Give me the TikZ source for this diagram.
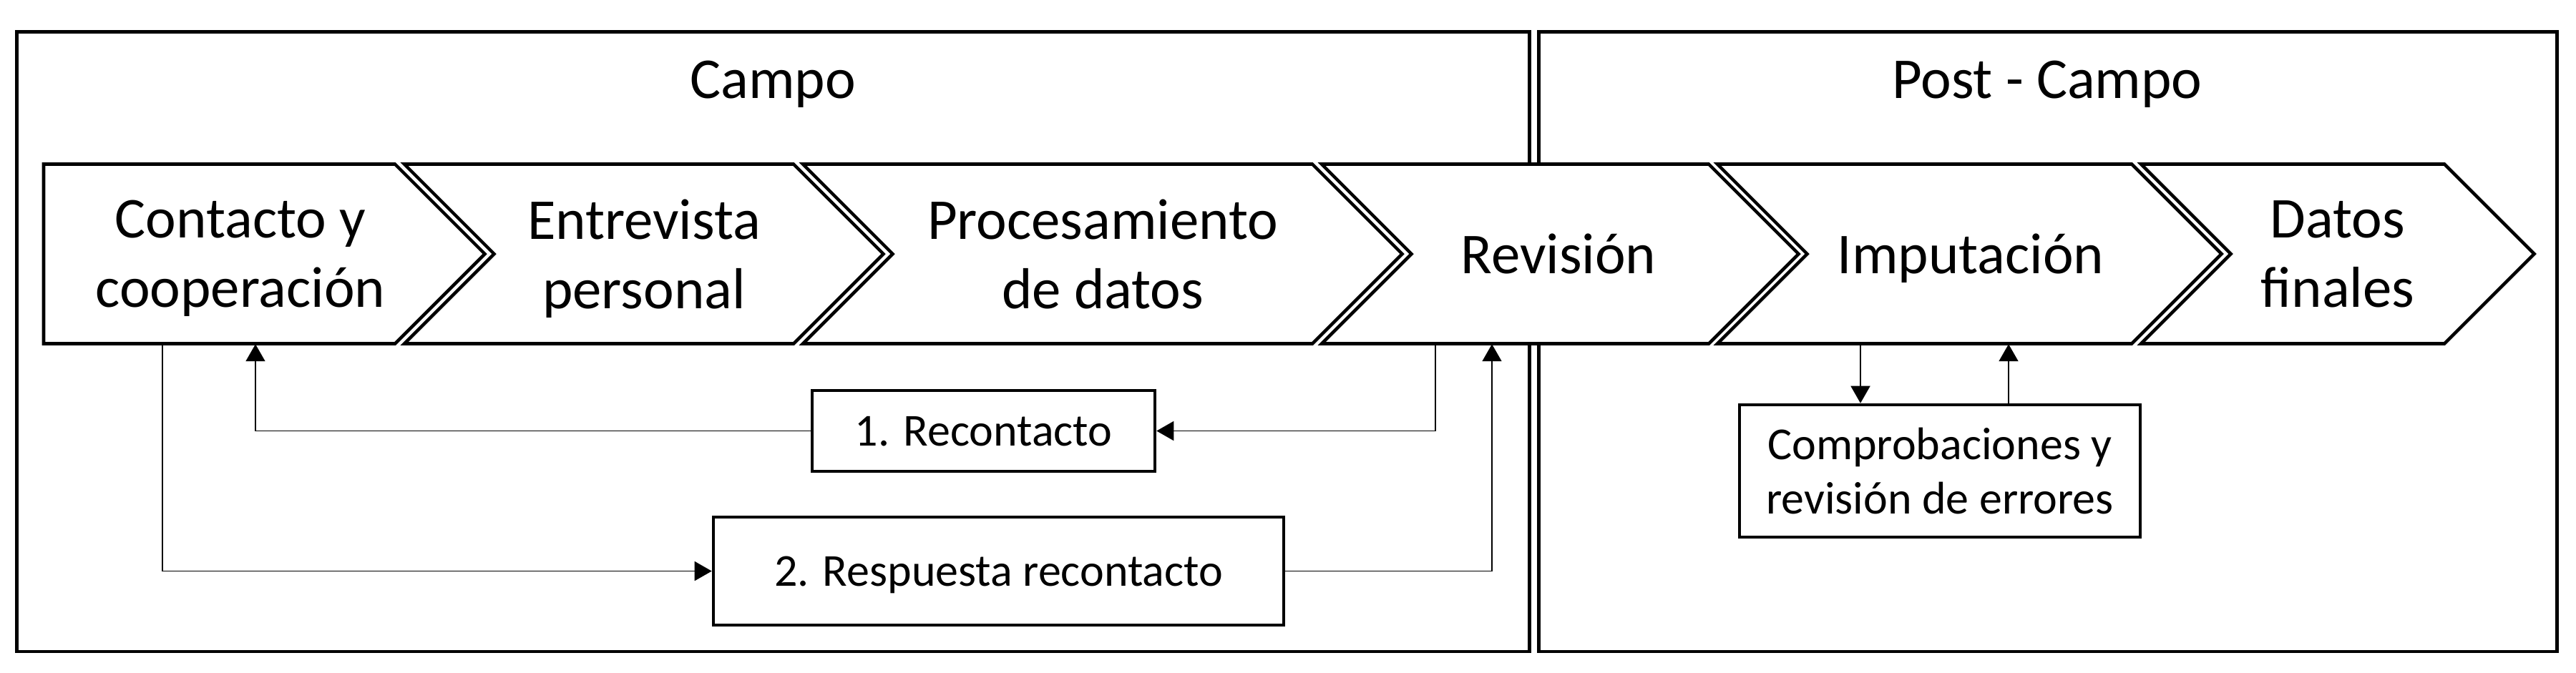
\documentclass[tikz,border=0pt]{standalone}
\usepackage{fontspec}
\setmainfont{Carlito}
\usetikzlibrary{arrows.meta}
\tikzset{
    marco/.style={line width=1.4pt},
    flecha/.style={line width=1.3pt, fill=white},
    etapa/.style={minimum height=2.51cm, inner sep=0pt, text depth=0pt, align=center, font=\fontsize{23}{27.6}\selectfont},
    titulo/.style={anchor=base, font=\fontsize{23}{27.6}\selectfont},
    caja/.style={draw, line width=1.3pt, fill=white, inner sep=0pt, text depth=0pt, align=center, font=\fontsize{18.2}{21.6}\selectfont},
    conector/.style={line width=0.5pt, -{Triangle[length=0.24cm,width=0.27cm]}}
}
\begin{document}
\begin{tikzpicture}
    \useasboundingbox (0,0) rectangle (36,-9.4);
    \draw[marco] (0.235,-0.445) rectangle (21.375,-9.11);
    \draw[marco] (21.505,-0.445) rectangle (35.73,-9.11);
    \node[titulo] (campo) at (10.80,-1.37) {Campo};
    \node[titulo] (postcampo) at (28.61,-1.37) {Post - Campo};
    \draw[flecha] (0.61,-2.295) -- (5.52,-2.295) -- (6.775,-3.55) -- (5.52,-4.805) -- (0.61,-4.805) -- cycle;
    \foreach \l/\r in {5.65/11.09, 11.22/18.34, 18.47/23.88, 24.00/29.79, 29.92/34.16}
        \draw[flecha] (\l,-2.295) -- (\r,-2.295) -- ({\r+1.255},-3.55) -- (\r,-4.805) -- (\l,-4.805) -- ({\l+1.255},-3.55) -- cycle;
    \node[etapa] (c1) at (3.36,-3.55) {Contacto y\\cooperación};
    \node[etapa] (c2) at (9.00,-3.55) {Entrevista\\personal};
    \node[etapa] (c3) at (15.41,-3.55) {Procesamiento\\de datos};
    \node[etapa] (c4) at (21.78,-3.55) {Revisión};
    \node[etapa] (c5) at (27.54,-3.55) {Imputación};
    \node[etapa] (c6) at (32.67,-3.55) {Datos\\finales};
    \node[caja, minimum width=4.79cm, minimum height=1.13cm] (recontacto) at (13.745,-6.025) {1. Recontacto};
    \node[caja, minimum width=7.97cm, minimum height=1.51cm] (respuesta) at (13.955,-7.985) {2. Respuesta recontacto};
    \node[caja, minimum width=5.60cm, minimum height=1.85cm] (comprobaciones) at (27.11,-6.585) {Comprobaciones y\\revisión de errores};
    \draw[conector] ([xshift=-1.09cm]c1.south) |- (respuesta.west);
    \draw[conector] (recontacto.west) -| ([xshift=0.21cm]c1.south);
    \draw[conector] ([xshift=-1.72cm]c4.south) |- (recontacto.east);
    \draw[conector] (respuesta.east) -| ([xshift=-0.93cm]c4.south);
    \draw[conector] ([xshift=-1.54cm]c5.south) -- ([xshift=-1.54cm]c5.south |- comprobaciones.north);
    \draw[conector] ([xshift=0.53cm]c5.south |- comprobaciones.north) -- ([xshift=0.53cm]c5.south);
\end{tikzpicture}
\end{document}
